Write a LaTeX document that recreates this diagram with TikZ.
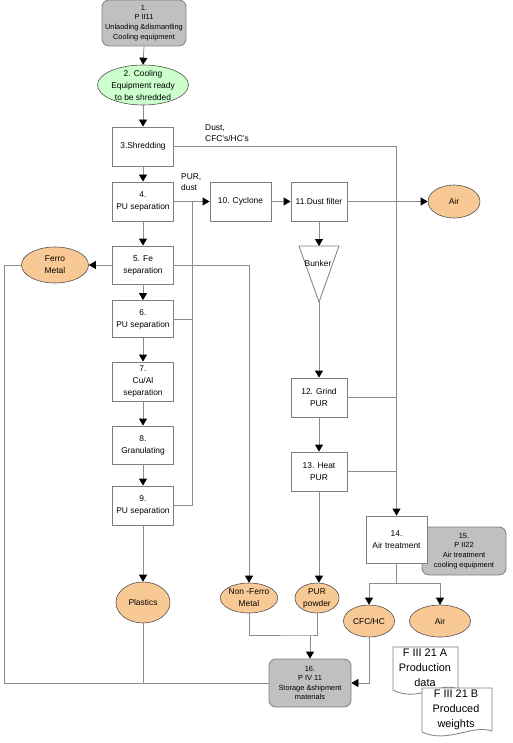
\documentclass[tikz,border=0pt]{standalone}
\usepackage{fontspec}
\setmainfont{Liberation Sans}
\usepackage{xcolor}
\usepackage{tikz}
\usetikzlibrary{arrows.meta,shapes.geometric,calc}
\definecolor{line}{HTML}{8C8C8C}
\definecolor{edge}{HTML}{7F7F7F}
\definecolor{panel}{HTML}{C0C0C0}
\definecolor{mint}{HTML}{CCFFCC}
\definecolor{peach}{HTML}{F9C995}
\definecolor{rim}{HTML}{505050}
\tikzset{
  flow/.style={draw=line, line width=0.8pt},
  arr/.style={flow, -{Triangle[width=8pt,length=7pt,color=black]}},
  box/.style={draw=edge, fill=white, line width=0.8pt, minimum width=61pt, minimum height=39pt, inner sep=1pt, align=center, font=\fontsize{8.4}{12}\selectfont},
  proc/.style={box, fill=panel, rounded corners=7pt, minimum width=84pt, minimum height=47pt, font=\fontsize{7.4}{9.6}\selectfont},
  blob/.style={ellipse, draw=rim, fill=peach, line width=0.6pt, inner sep=0pt, align=center, font=\fontsize{8.4}{12}\selectfont},
  doc/.style={draw=edge, fill=white, line width=0.8pt},
  lab/.style={align=left, inner sep=0pt, font=\fontsize{8.4}{11}\selectfont},
  big/.style={align=center, inner sep=0pt, font=\fontsize{10.9}{15}\selectfont},
}
\begin{document}
\begin{tikzpicture}[x=1pt,y=-1pt]
  \useasboundingbox (0,0) rectangle (512,743);
  \node[proc, minimum height=46pt] (n1) at (144,23) {1.\\P II11\\Unlaoding \&dismantling\\Cooling equipment};
  \node[blob, fill=mint, inner ysep=-3pt, minimum width=91pt, minimum height=40pt] (n2) at (143,85) {2. Cooling\\Equipment ready\\to be shredded};
  \node[box] (n3) at (143,146.5) {3.Shredding};
  \node[box] (n4) at (143,201.5) {4.\\PU separation};
  \node[box, minimum height=38pt] (n5) at (143,265) {5. Fe\\separation};
  \node[box, minimum height=37pt] (n6) at (143,319) {6.\\PU separation};
  \node[box] (n7) at (143,381.5) {7.\\Cu/Al\\separation};
  \node[box, minimum height=38pt] (n8) at (143,445) {8.\\Granulating};
  \node[box] (n9) at (143,505.5) {9.\\PU separation};
  \node[box] (n10) at (240.5,201.5) {10. Cyclone};
  \node[box, minimum width=56pt] (n11) at (319,201.5) {11.Dust filter};
  \node[box, minimum width=56pt] (n12) at (319,397.5) {12. Grind\\PUR};
  \node[box, minimum width=56pt] (n13) at (319,471.5) {13. Heat\\PUR};
  \node[proc, minimum height=48pt] (n15) at (464,551) {15.\\P II22\\Air treatment\\cooling equipment};
  \node[box, minimum height=47pt] (n14) at (396.5,539.5) {14.\\Air treatment};
  \node[proc, minimum width=82pt, minimum height=48pt] (n16) at (310,683) {16.\\P IV 11\\Storage \&shipment\\materials};
  \node[blob, minimum width=67pt, minimum height=36pt] (ferro) at (55,265) {Ferro\\Metal};
  \node[blob, minimum width=52pt, minimum height=33pt] (airtop) at (454,201.5) {Air};
  \node[blob, minimum width=54pt, minimum height=41pt] (plastics) at (143,602.5) {Plastics};
  \node[blob, inner ysep=-1pt, minimum width=52pt, minimum height=30pt] (nonferro) at (249,598) {Non -Ferro\\Metal};
  \node[blob, inner ysep=-1pt, minimum width=44pt, minimum height=30pt] (purpowder) at (317,598) {PUR\\powder};
  \node[blob, minimum width=51pt, minimum height=32pt] (cfc) at (369,621) {CFC/HC};
  \node[blob, minimum width=61pt, minimum height=32pt] (airbot) at (440,621) {Air};
  % bunker
  \coordinate (bkl) at (299,246);
  \coordinate (bkr) at (339,246);
  \coordinate (bktop) at (319,246);
  \coordinate (bkt) at (319,302);
  \draw[doc] (bkl) -- (bkr) -- (bkt) -- cycle;
  \node[lab] (bunker) at (318,263) {Bunker};
  % flows
  \foreach \a/\b in {n1/n2,n2/n3,n3/n4,n4/n5,n5/n6,n6/n7,n7/n8,n8/n9,n9/plastics,n12/n13}
    \draw[arr] (\a.south) -- (\b.north);
  \draw[arr] (n3.east) -| (n14.north);
  \node[lab, anchor=north west] (dustlab) at (205,125) {Dust,\\CFC's/HC's};
  \draw[arr] (n4.east) -- (n10.west);
  \node[lab, anchor=north west] (purlab) at (181,174) {PUR,\\dust};
  \coordinate (j1) at (192,201.5);
  \draw[flow] (n6.east) -| (j1);
  \draw[flow] (n9.east) -| (j1);
  \draw[arr] (n10.east) -- (n11.west);
  \draw[arr] (n11.east) -- (airtop.west);
  \draw[arr] (n11.south) -- (bktop);
  \draw[arr] (bkt) -- (n12.north);
  \draw[flow] (n12.east) -- (n12.east -| n14.north);
  \draw[flow] (n13.east) -- (n13.east -| n14.north);
  \draw[arr] (n13.south) -- (n13.south |- purpowder.north);
  \draw[arr] (n5.west) -- (ferro.east);
  \draw[arr] (n5.east) -| (nonferro.north);
  \coordinate (j0) at (4,683);
  \draw[flow] (ferro.west) -- (ferro.west -| j0) -- (j0) -- (n16.west);
  \draw[flow] (plastics.south) -- (plastics.south |- n16.west);
  \coordinate (j2) at (310,635);
  \draw[flow] (nonferro.south) |- (j2) -| (purpowder.south);
  \draw[arr] (j2) -- (n16.north);
  \coordinate (j3) at (396.5,583);
  \draw[flow] (n14.south) -- (j3);
  \draw[arr] (j3) -| (cfc.north);
  \draw[arr] (j3) -| (airbot.north);
  \draw[arr] (cfc.south) |- (n16.east);
  % documents
  \draw[doc] (393,647) -- (458,647) -- (458,689) .. controls (440,681) and (418,703) .. (393,690) -- cycle;
  \node[big] (docA) at (425,668) {F III 21 A\\Production\\data};
  \draw[doc] (422,688) -- (492,688) -- (492,731) .. controls (472,724) and (448,744) .. (422,732) -- cycle;
  \node[big] (docB) at (456,710) {F III 21 B\\Produced\\weights};
\end{tikzpicture}
\end{document}
